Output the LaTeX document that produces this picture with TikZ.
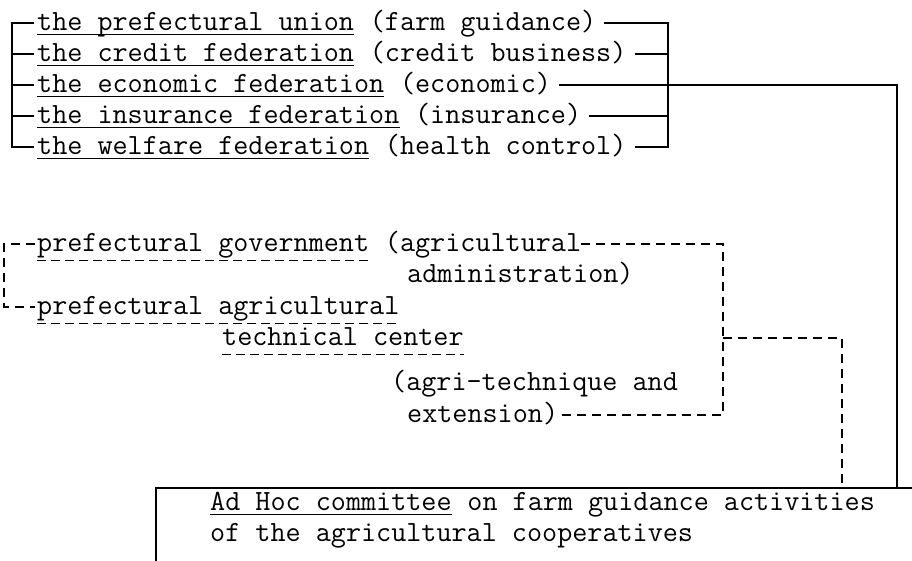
\documentclass[tikz,border=0pt]{standalone}
\usetikzlibrary{positioning}
\newcommand{\chw}{15.4pt}
\tikzset{
  tw/.style={font=\ttfamily\fontsize{29.3}{31}\selectfont, inner sep=0pt, text height=14pt, text depth=0pt, anchor=west},
  link/.style={line width=1.6pt},
  dlink/.style={line width=1.6pt, dash pattern=on 9pt off 6pt},
  ul/.style={line width=1.3pt},
  dul/.style={line width=1.3pt, dash pattern=on 9pt off 5pt},
}
\begin{document}
\begin{tikzpicture}[x=1pt, y=-1pt]
\clip (0,0) rectangle (912,560);
% Federazioni
\node[tw] (u1) at (37,23) {the prefectural union};
\node[tw, right=\chw of u1] (p1) {(farm guidance)};
\node[tw] (u2) at (37,54) {the credit federation};
\node[tw, right=\chw of u2] (p2) {(credit business)};
\node[tw] (u3) at (37,85) {the economic federation};
\node[tw, right=\chw of u3] (p3) {(economic)};
\node[tw] (u4) at (37,116) {the insurance federation};
\node[tw, right=\chw of u4] (p4) {(insurance)};
\node[tw] (u5) at (37,147) {the welfare federation};
\node[tw, right=\chw of u5] (p5) {(health control)};

% Enti pubblici
\node[tw] (g1) at (37,244) {prefectural government};
\node[tw, right=\chw of g1] (g1p) {(agricultural};
\node[tw] (g2) at (407,275) {administration)};
\node[tw] (t1) at (37,307) {prefectural agricultural};
\node[tw] (t2) at (222,338) {technical center};
\node[tw] (e1) at (391,383) {(agri-technique and};
\node[tw] (e2) at (407,415) {extension)};

% Comitato
\node[draw, link, anchor=north west, minimum width=900pt, minimum height=150pt] (box) at (155,487) {};
\node[tw] (c1) at (210,503) {Ad Hoc committee};
\node[tw, right=\chw of c1] (c1p) {on farm guidance activities};
\node[tw] (c2) at (210,534) {of the agricultural cooperatives};

\coordinate (lb) at (12,0);
\coordinate (rb) at (668,0);
\coordinate (mx) at (897,0);
\coordinate (dx) at (723,0);
\coordinate (bx) at (842,0);
\coordinate (lx) at (4,0);

% Sottolineature
\draw[ul] ([yshift=-4pt]u1.south west) -- ([yshift=-4pt]u1.south east);
\draw[ul] ([yshift=-4pt]u2.south west) -- ([yshift=-4pt]u2.south east);
\draw[ul] ([yshift=-4pt]u3.south west) -- ([yshift=-4pt]u3.south east);
\draw[ul] ([yshift=-4pt]u4.south west) -- ([yshift=-4pt]u4.south east);
\draw[ul] ([yshift=-4pt]u5.south west) -- ([yshift=-4pt]u5.south east);
\draw[ul] ([yshift=-4pt]c1.south west) -- ([yshift=-4pt]c1.south east);
\draw[dul] ([yshift=-9pt]g1.south west) -- ([yshift=-9pt]g1.south east);
\draw[dul] ([yshift=-9pt]t1.south west) -- ([yshift=-9pt]t1.south east);
\draw[dul] ([yshift=-9pt]t2.south west) -- ([yshift=-9pt]t2.south east);

% Parentesi
\draw[link] ([xshift=-3pt]u1.west) -| (lb |- u5.west) -- ([xshift=-3pt]u5.west);
\draw[link] ([xshift=-3pt]u2.west) -- (lb |- u2.west);
\draw[link] ([xshift=-3pt]u3.west) -- (lb |- u3.west);
\draw[link] ([xshift=-3pt]u4.west) -- (lb |- u4.west);
\draw[link] ([xshift=8pt]p1.east) -| (rb |- p5.east) -- ([xshift=8pt]p5.east);
\draw[link] ([xshift=8pt]p2.east) -- (rb |- p2.east);
\draw[link] ([xshift=8pt]p3.east) -- (rb |- p3.east);
\draw[link] ([xshift=8pt]p4.east) -- (rb |- p4.east);
\draw[link] (rb |- p3.east) -| (mx |- box.north);

% Archi tratteggiati
\draw[dlink] ([xshift=-2pt]g1.west) -| (lx |- t1.west) -- ([xshift=-2pt]t1.west);
\draw[dlink] (g1p.east) -| (dx |- e2.east) -- ([xshift=3pt]e2.east);
\draw[dlink] (dx |- t2.east) -| (bx |- box.north);
\end{tikzpicture}
\end{document}
